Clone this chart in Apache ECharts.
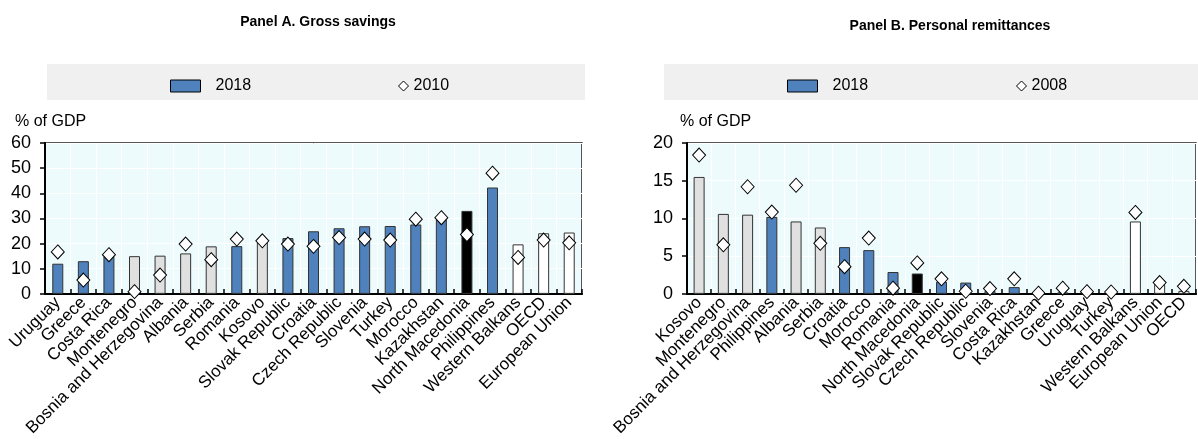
<!DOCTYPE html>
<html>
<head>
<meta charset="utf-8">
<script src="https://cdn.jsdelivr.net/npm/echarts@6/dist/echarts.min.js"></script>
<style>
html,body{margin:0;padding:0;background:#fff;}
#c{width:1198px;height:439px;}
</style>
</head>
<body>
<div id="c"></div>
<script>
// ---------- DATA ----------
var catsA = ['Uruguay','Greece','Costa Rica','Montenegro','Bosnia and Herzegovina','Albania','Serbia','Romania','Kosovo','Slovak Republic','Croatia','Czech Republic','Slovenia','Turkey','Morocco','Kazakhstan','North Macedonia','Philippines','Western Balkans','OECD','European Union'];
var savings2018 = [12, 13, 15, 15, 15.2, 16.1, 18.9, 19, 21, 22.2, 24.9, 26.1, 26.9, 27, 27.6, 29.6, 33, 42.3, 19.7, 24.1, 24.4];
var savings2010 = [16.7, 5.5, 15.6, 0.9, 7.5, 19.8, 13.6, 21.8, 21.1, 19.8, 18.9, 22.4, 21.8, 21.4, 29.7, 30.3, 23.6, 48, 14.5, 21.4, 20.3];
var groupsA = ['c','c','c','w','w','w','w','c','w','c','c','c','c','c','c','c','m','c','a','a','a'];

var catsB = ['Kosovo','Montenegro','Bosnia and Herzegovina','Philippines','Albania','Serbia','Croatia','Morocco','Romania','North Macedonia','Slovak Republic','Czech Republic','Slovenia','Costa Rica','Kazakhstan','Greece','Uruguay','Turkey','Western Balkans','European Union','OECD'];
var remit2018 = [15.5, 10.6, 10.5, 10.2, 9.6, 8.8, 6.2, 5.8, 2.9, 2.7, 1.6, 1.5, 0.4, 0.9, 0.1, 0.2, 0.1, 0.1, 9.6, 1.3, 0.4];
var remit2008 = [18.4, 6.5, 14.2, 10.85, 14.4, 6.7, 3.6, 7.4, 0.75, 4.1, 2.0, 0.35, 0.7, 2.0, 0.1, 0.75, 0.3, 0.25, 10.8, 1.5, 1.0];
var groupsB = ['w','w','w','c','w','w','c','c','c','m','c','c','c','c','c','c','c','c','a','a','a'];

var yTicksA = {min:0, max:60, interval:10};
var yTicksB = {min:0, max:20, interval:5};

// ---------- STYLE ----------
var COLORS = {c:'#4F81BD', w:'#E0E0E0', m:'#000000', a:'#FFFFFF'};
var FONT = 'Liberation Sans, Arial, sans-serif';

function barData(vals, groups){
  return vals.map(function(v,i){
    return {value:v, itemStyle:{color:COLORS[groups[i]]}};
  });
}

function xAxis(idx, cats){
  return {
    type:'category', gridIndex:idx, data:cats,
    axisLine:{show:true, lineStyle:{color:'#000', width:2}},
    axisTick:{show:true, inside:true, length:5, lineStyle:{color:'#000', width:1.5}},
    splitLine:{show:true, lineStyle:{color:'#FFFFFF', width:1}},
    axisLabel:{rotate:45, interval:0, margin:6, color:'#000', fontFamily:FONT, fontSize:17}
  };
}
function yAxis(idx, t){
  return {
    type:'value', gridIndex:idx, min:t.min, max:t.max, interval:t.interval,
    axisLine:{show:true, lineStyle:{color:'#000', width:2}},
    axisTick:{show:true, inside:false, length:5, lineStyle:{color:'#000', width:1.5}},
    splitLine:{show:true, lineStyle:{color:'#FFFFFF', width:1}},
    axisLabel:{margin:14, color:'#000', fontFamily:FONT, fontSize:18}
  };
}

var gridBg = '#EDFBFC';

var option = {
  animation:false,
  backgroundColor:'#fff',
  title:[
    {text:'Panel A. Gross savings', left:313, top:10, textAlign:'center',
     textStyle:{fontFamily:FONT, fontWeight:'bold', fontSize:14, color:'#000'}},
    {text:'Panel B. Personal remittances', left:945, top:14, textAlign:'center',
     textStyle:{fontFamily:FONT, fontWeight:'bold', fontSize:14, color:'#000'}}
  ],
  graphic:[
    {type:'rect', shape:{x:47, y:64, width:538, height:36}, style:{fill:'#F0F0F0'}, z:-10},
    {type:'rect', shape:{x:664, y:64, width:534, height:36}, style:{fill:'#F0F0F0'}, z:-10},
    {type:'text', left:15, top:114, style:{text:'% of GDP', fontFamily:FONT, fontSize:16, fill:'#000'}},
    {type:'text', left:680, top:114, style:{text:'% of GDP', fontFamily:FONT, fontSize:16, fill:'#000'}}
  ],
  legend:[
    {data:[{name:'2018', icon:'rect'}], left:165, top:73, itemWidth:30, itemHeight:12, selectedMode:false,
     itemStyle:{color:COLORS.c, borderColor:'#000', borderWidth:1},
     textStyle:{fontFamily:FONT, fontSize:16, color:'#000', padding:[0,0,0,10]}},
    {data:[{name:'2010', icon:'diamond'}], left:393, top:73, itemWidth:10, itemHeight:10, selectedMode:false,
     itemStyle:{color:'#fff', borderColor:'#000', borderWidth:1},
     textStyle:{fontFamily:FONT, fontSize:16, color:'#000'}},
    {data:[{name:'2018 ', icon:'rect'}], left:782, top:73, itemWidth:30, itemHeight:12, selectedMode:false,
     itemStyle:{color:COLORS.c, borderColor:'#000', borderWidth:1},
     textStyle:{fontFamily:FONT, fontSize:16, color:'#000', padding:[0,0,0,10]}},
    {data:[{name:'2008', icon:'diamond'}], left:1011, top:73, itemWidth:10, itemHeight:10, selectedMode:false,
     itemStyle:{color:'#fff', borderColor:'#000', borderWidth:1},
     textStyle:{fontFamily:FONT, fontSize:16, color:'#000'}}
  ],
  grid:[
    {left:45, right:616, top:143, bottom:144, show:true, backgroundColor:gridBg, borderColor:'#222', borderWidth:1.5},
    {left:687, right:2, top:143, bottom:144, show:true, backgroundColor:gridBg, borderColor:'#222', borderWidth:1.5}
  ],
  xAxis:[xAxis(0, catsA), xAxis(1, catsB)],
  yAxis:[yAxis(0, yTicksA), yAxis(1, yTicksB)],
  series:[
    {name:'2018', type:'bar', xAxisIndex:0, yAxisIndex:0, barWidth:11,
     itemStyle:{color:COLORS.c, borderColor:'#333', borderWidth:1},
     data:barData(savings2018, groupsA), z:2},
    {name:'2010', type:'scatter', xAxisIndex:0, yAxisIndex:0, symbol:'diamond', symbolSize:[13,14],
     itemStyle:{color:'#fff', borderColor:'#000', borderWidth:1, opacity:1},
     data:savings2010, z:3},
    {name:'2018 ', type:'bar', xAxisIndex:1, yAxisIndex:1, barWidth:11,
     itemStyle:{color:COLORS.c, borderColor:'#333', borderWidth:1},
     data:barData(remit2018, groupsB), z:2},
    {name:'2008', type:'scatter', xAxisIndex:1, yAxisIndex:1, symbol:'diamond', symbolSize:[13,14],
     itemStyle:{color:'#fff', borderColor:'#000', borderWidth:1, opacity:1},
     data:remit2008, z:3}
  ]
};

var chart = echarts.init(document.getElementById('c'), null, {renderer:'canvas'});
chart.setOption(option);
</script>
</body>
</html>
